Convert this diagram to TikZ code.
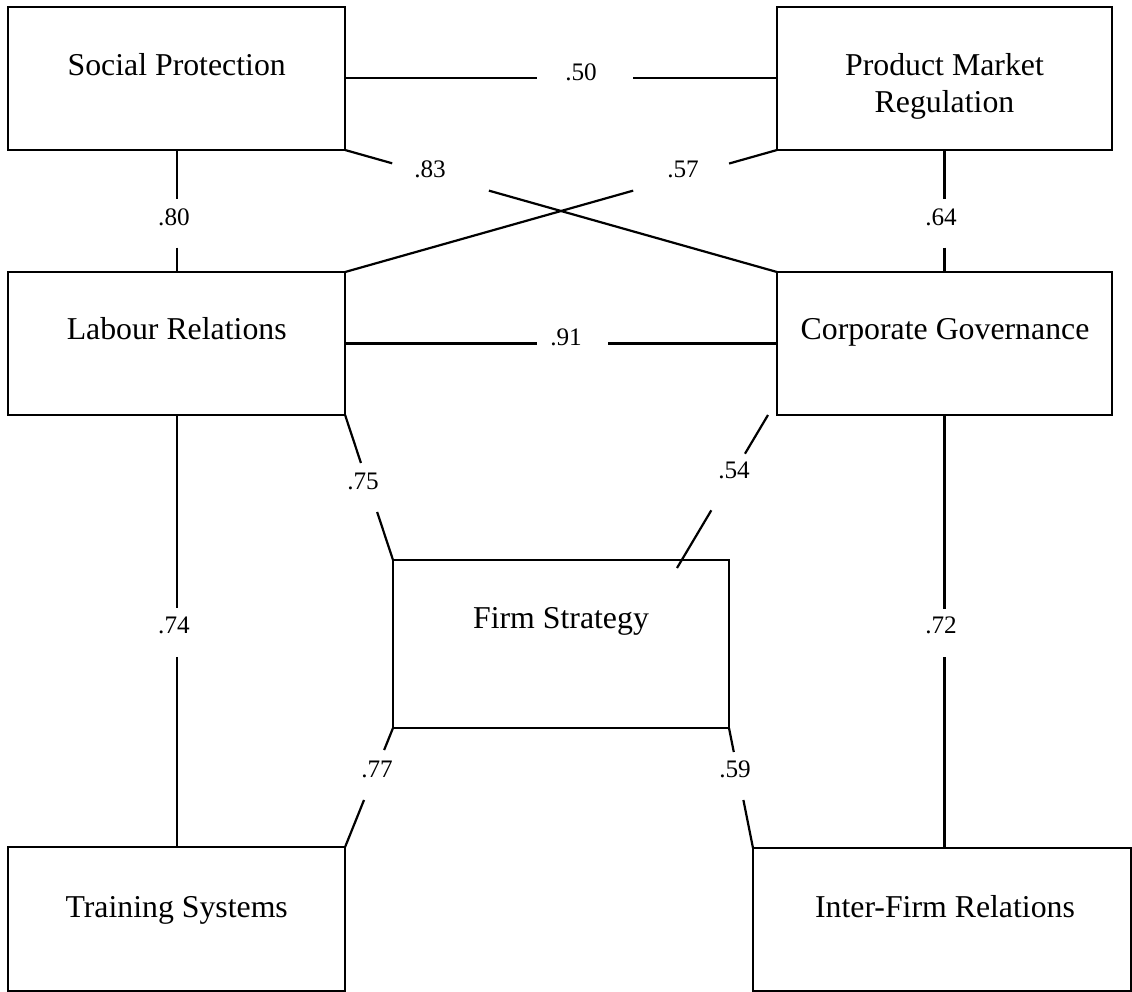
\documentclass[tikz,border=0pt]{standalone}
\usepackage{fontspec}
\setmainfont{Liberation Serif}
\usetikzlibrary{calc}
\begin{document}
\begin{tikzpicture}[x=0.5pt,y=-0.5pt,
  box/.style={draw, rectangle, line width=1.1pt, inner sep=0pt, outer sep=0pt},
  boxtext/.style={anchor=base, inner sep=0pt, align=center, font=\fontsize{15.9}{18.5}\selectfont},
  lbl/.style={anchor=base, inner sep=0pt, font=\fontsize{12.6}{14}\selectfont},
  conn/.style={line width=1.1pt}]
\useasboundingbox (0,0) rectangle (1132,992);

% boxes
\node[box, minimum width=168.4pt, minimum height=71.7pt] (SP)  at (176.7,78.3) {};
\node[box, minimum width=167.5pt, minimum height=71.7pt] (PMR) at (944.5,78.3) {};
\node[box, minimum width=168.4pt, minimum height=71.5pt] (LR)  at (176.7,343.5) {};
\node[box, minimum width=167.5pt, minimum height=71.5pt] (CG)  at (944.5,343.5) {};
\node[box, minimum width=168pt,   minimum height=84pt]   (FS)  at (561,644) {};
\node[box, minimum width=168.4pt, minimum height=72pt]   (TS)  at (176.7,919) {};
\node[box, minimum width=189pt,   minimum height=71.5pt] (IFR) at (942,919.5) {};

% box texts
\node[boxtext] (SPt)  at (176.7,75) {Social Protection};
\node[boxtext] (PMRt) at (944.5,112) {Product Market\\Regulation};
\node[boxtext] (LRt)  at (176.7,339) {Labour Relations};
\node[boxtext] (CGt)  at (945,339) {Corporate Governance};
\node[boxtext] (FSt)  at (561,628) {Firm Strategy};
\node[boxtext] (TSt)  at (176.7,917) {Training Systems};
\node[boxtext] (IFRt) at (945,917) {Inter-Firm Relations};

% connectors (each broken around its label)
\path (SP.east) -- coordinate[pos=0.444] (a1) coordinate[pos=0.667] (a2) (PMR.west);
\draw[conn] (SP.east) -- (a1) (a2) -- (PMR.west);

\path (LR.east) -- coordinate[pos=0.444] (b1) coordinate[pos=0.609] (b2) (CG.west);
\draw[conn] (LR.east) -- (b1) (b2) -- (CG.west);

\path (SP.south) -- coordinate[pos=0.40] (c1) coordinate[pos=0.80] (c2) (LR.north);
\draw[conn] (SP.south) -- (c1) (c2) -- (LR.north);

\path (PMR.south) -- coordinate[pos=0.40] (d1) coordinate[pos=0.80] (d2) (CG.north);
\draw[conn] (PMR.south) -- (d1) (d2) -- (CG.north);

\path (LR.south) -- coordinate[pos=0.447] (e1) coordinate[pos=0.560] (e2) (TS.north);
\draw[conn] (LR.south) -- (e1) (e2) -- (TS.north);

\coordinate (IFRtop) at (CG.south |- IFR.north);
\path (CG.south) -- coordinate[pos=0.447] (f1) coordinate[pos=0.560] (f2) (IFRtop);
\draw[conn] (CG.south) -- (f1) (f2) -- (IFRtop);

\path (SP.south east) -- coordinate[pos=0.109] (g1) coordinate[pos=0.333] (g2) (CG.north west);
\draw[conn] (SP.south east) -- (g1) (g2) -- (CG.north west);

\path (PMR.south west) -- coordinate[pos=0.111] (h1) coordinate[pos=0.333] (h2) (LR.north east);
\draw[conn] (PMR.south west) -- (h1) (h2) -- (LR.north east);

\path (LR.south east) -- coordinate[pos=0.331] (i1) coordinate[pos=0.669] (i2) (FS.north west);
\draw[conn] (LR.south east) -- (i1) (i2) -- (FS.north west);

\coordinate (j0) at ($(CG.south west)+(-9,0)$);
\coordinate (j3) at ($(FS.north east)+(-52,8)$);
\path (j0) -- coordinate[pos=0.253] (j1) coordinate[pos=0.623] (j2) (j3);
\draw[conn] (j0) -- (j1) (j2) -- (j3);

\path (FS.south west) -- coordinate[pos=0.185] (k1) coordinate[pos=0.605] (k2) (TS.north east);
\draw[conn] (FS.south west) -- (k1) (k2) -- (TS.north east);

\path (FS.south east) -- coordinate[pos=0.20] (m1) coordinate[pos=0.60] (m2) (IFR.north west);
\draw[conn] (FS.south east) -- (m1) (m2) -- (IFR.north west);

% labels
\node[lbl] (l50) at (581,80) {.50};
\node[lbl] (l83) at (430,177) {.83};
\node[lbl] (l57) at (683,177) {.57};
\node[lbl] (l80) at (174,225) {.80};
\node[lbl] (l64) at (941,225) {.64};
\node[lbl] (l91) at (566,345) {.91};
\node[lbl] (l75) at (363,489) {.75};
\node[lbl] (l54) at (734,478) {.54};
\node[lbl] (l74) at (174,633) {.74};
\node[lbl] (l72) at (941,633) {.72};
\node[lbl] (l77) at (377,777) {.77};
\node[lbl] (l59) at (735,777) {.59};
\end{tikzpicture}
\end{document}
